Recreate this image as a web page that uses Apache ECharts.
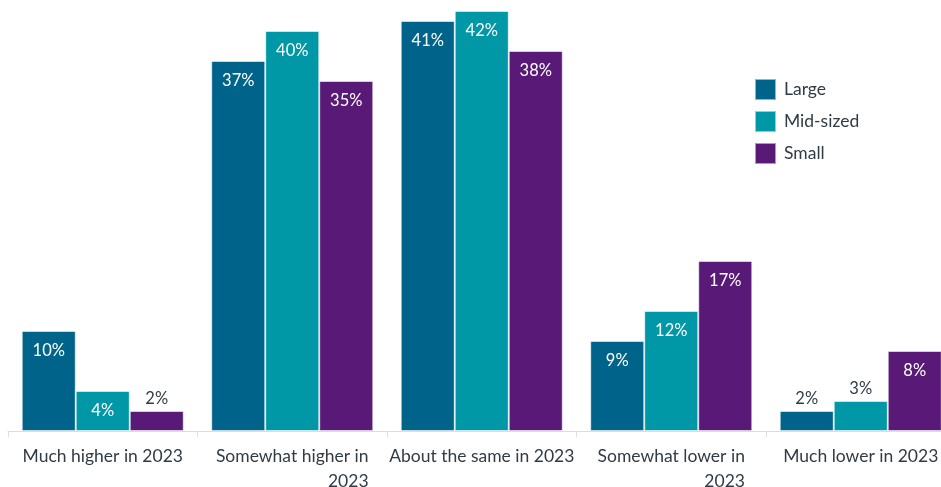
<!DOCTYPE html>
<html>
<head>
<meta charset="utf-8">
<script src="https://cdn.jsdelivr.net/npm/echarts@6/dist/echarts.min.js"></script>
<style>
  html, body { margin: 0; padding: 0; background: #fff; }
  #chart { width: 941px; height: 487px; }
</style>
</head>
<body>
<div id="chart"></div>
<script>
// Expected change in revenue, by company size
const categories = [
  'Much higher in 2023',
  'Somewhat higher in\n2023',
  'About the same in 2023',
  'Somewhat lower in\n2023',
  'Much lower in 2023'
];
const seriesNames = ['Large', 'Mid-sized', 'Small'];
const large = [10, 37, 41, 9, 2];
const midSized = [4, 40, 42, 12, 3];
const small = [2, 35, 38, 17, 8];

const colors = ['#00648A', '#0097A6', '#591A77'];
const FONT = 'Lato, "Open Sans", sans-serif';
const TEXT = '#2F3B45';

// Short bars get their value printed above the bar instead of inside it
function toData(values) {
  return values.map(v => {
    if (v < 4) {
      return { value: v, label: { position: 'top', distance: 4, color: TEXT } };
    }
    return v;
  });
}

const chart = echarts.init(document.getElementById('chart'), null, { renderer: 'canvas' });

const barBase = {
  type: 'bar',
  barGap: '0%',
  barCategoryGap: '14.5%',
  itemStyle: { borderColor: 'rgba(255,255,255,0.55)', borderWidth: 1 },
  label: {
    show: true,
    position: 'insideTop',
    distance: 11,
    formatter: '{c}%',
    color: '#fff',
    fontFamily: FONT,
    fontSize: 16.5
  }
};

chart.setOption({
  animation: false,
  color: colors,
  grid: {
    left: 8, top: 1, width: 947.5, height: 430,
    containLabel: false, outerBoundsMode: 'none'
  },
  legend: {
    orient: 'vertical',
    left: 754,
    top: 78,
    padding: 0,
    itemWidth: 21,
    itemHeight: 21,
    itemGap: 9,
    icon: 'rect',
    textStyle: { fontFamily: FONT, fontSize: 17.5, lineHeight: 21, color: TEXT, padding: [0, 0, 0, 3] },
    data: seriesNames
  },
  xAxis: {
    type: 'category',
    data: categories,
    axisLine: { lineStyle: { color: '#D9DEE3', width: 1 } },
    axisTick: { show: true, length: 6, lineStyle: { color: '#D9DEE3' } },
    axisLabel: {
      margin: 13,
      interval: 0,
      hideOverlap: false,
      formatter: v => v.split('\n').map(s => '{r|' + s + '}').join('\n'),
      rich: {
        r: { align: 'right', fontFamily: FONT, fontSize: 17.5, color: TEXT, lineHeight: 25 }
      }
    }
  },
  yAxis: {
    type: 'value',
    min: 0,
    max: 43,
    show: false,
    splitLine: { show: false }
  },
  series: [
    Object.assign({}, barBase, { name: seriesNames[0], data: toData(large) }),
    Object.assign({}, barBase, { name: seriesNames[1], data: toData(midSized) }),
    Object.assign({}, barBase, { name: seriesNames[2], data: toData(small) })
  ]
});
</script>
</body>
</html>
